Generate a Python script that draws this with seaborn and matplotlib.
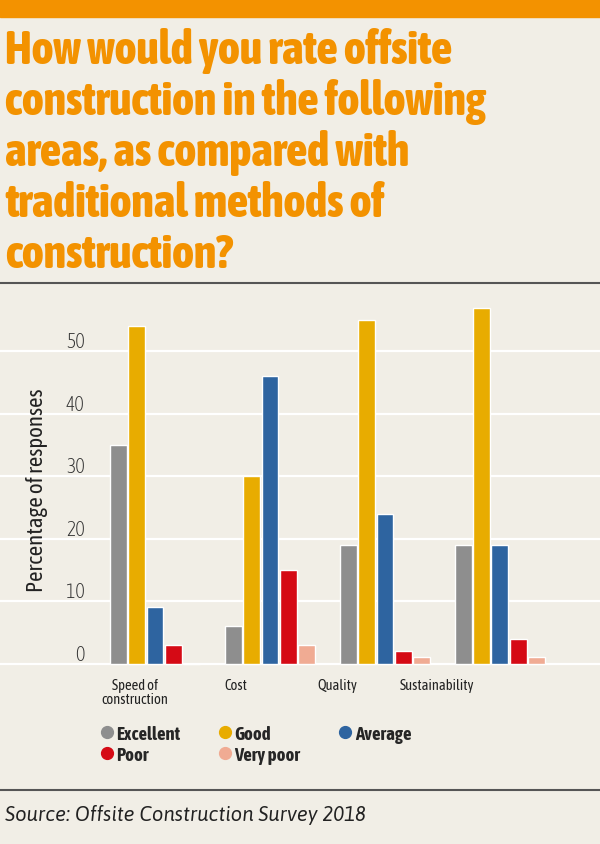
import matplotlib
matplotlib.use('Agg')
import numpy as np
import pandas as pd
import seaborn as sns
import matplotlib.pyplot as plt
from matplotlib.lines import Line2D

# data (percentage of responses)
areas = ["Speed of\nconstruction", "Cost", "Quality", "Sustainability"]
ratings = ["Excellent", "Good", "Average", "Poor", "Very poor"]
excellent = [35, 6, 19, 19]
good = [54, 30, 55, 57]
average = [9, 46, 24, 19]
poor = [3, 15, 2, 4]
very_poor = [0, 3, 1, 1]
colours = ["#8e8e8e", "#e8ac00", "#2e64a0", "#d50a15", "#f0ab93"]
yticks = [0, 10, 20, 30, 40, 50]

bg = "#f1eee6"
orange = "#f39200"
cond = ['Asap Condensed', 'Fira Sans Extra Condensed', 'DejaVu Sans']

rows = []
for r, vals in zip(ratings, [excellent, good, average, poor, very_poor]):
    for a, v in zip(areas, vals):
        rows.append({"area": a, "rating": r, "pct": v})
df = pd.DataFrame(rows)

sns.set_theme(style="white")
plt.rcParams['font.family'] = cond

fig = plt.figure(figsize=(6, 8.45), dpi=100, facecolor=bg)

# orange band on top
fig.patches.append(plt.Rectangle((0, 1 - 18/845), 1, 18/845, transform=fig.transFigure,
                                 color=orange, zorder=0))

title_lines = ["How would you rate offsite",
               "construction in the following",
               "areas, as compared with",
               "traditional methods of",
               "construction?"]
for i, line in enumerate(title_lines):
    fig.text(5/600, 1 - (64 + i*51)/845, line, color=orange, fontsize=33.2,
             fontweight=800, ha='left', va='baseline')

# separator lines
fig.add_artist(Line2D([0, 1], [1 - 284/845]*2, color="#555555", lw=1.5))
fig.add_artist(Line2D([0, 1], [1 - 791/845]*2, color="#555555", lw=1.5))

ax = fig.add_axes([0, 1 - 667/845, 1, (667 - 290)/845])
ax.set_facecolor(bg)
sns.barplot(data=df, x="area", y="pct", hue="rating", palette=colours,
            saturation=1, width=0.8, gap=0.08, ax=ax, legend=False, zorder=3)
ax.set_xlim(-1.348, 3.87)
ax.set_ylim(-0.4, 60)
ax.set_yticks(yticks)
ax.grid(axis='y', color='white', lw=1.6, zorder=0)
ax.set_axisbelow(True)
for s in ax.spines.values():
    s.set_visible(False)
ax.tick_params(axis='y', length=0, pad=-61, labelsize=14.5, labelcolor="#333333")
for lab in ax.get_yticklabels():
    lab.set_va('bottom')
    lab.set_fontweight('light')
ax.set_xticks([-0.174, 0.704, 1.583, 2.452])
ax.set_xticklabels(areas, fontsize=10.5, color="#222222", linespacing=1.0)
ax.tick_params(axis='x', length=0, pad=9)
ax.set_xlabel("")
ax.set_ylabel("Percentage of responses", fontsize=16.5, color="#222222")
ax.yaxis.set_label_coords(48/600, 0.47)

handles = [Line2D([], [], marker='o', ls='', markersize=8.5, color=c) for c in colours]
order = [0, 3, 1, 4, 2]
fig.legend([handles[i] for i in order], [ratings[i] for i in order],
           loc='upper left', bbox_to_anchor=(84/600, 1 - 709/845), ncol=3,
           frameon=False, handletextpad=0.2, columnspacing=2.1, labelspacing=0.15,
           prop={'family': cond, 'weight': 'bold', 'size': 13.5}, handlelength=0.6)

fig.text(5/600, 1 - 821/845, "Source: Offsite Construction Survey 2018", fontsize=14.6,
         fontstyle='italic', family=['Asap', 'Fira Sans', 'DejaVu Sans'],
         color="#222222", ha='left', va='baseline')

fig.savefig("out.png", dpi=100, facecolor=bg)
